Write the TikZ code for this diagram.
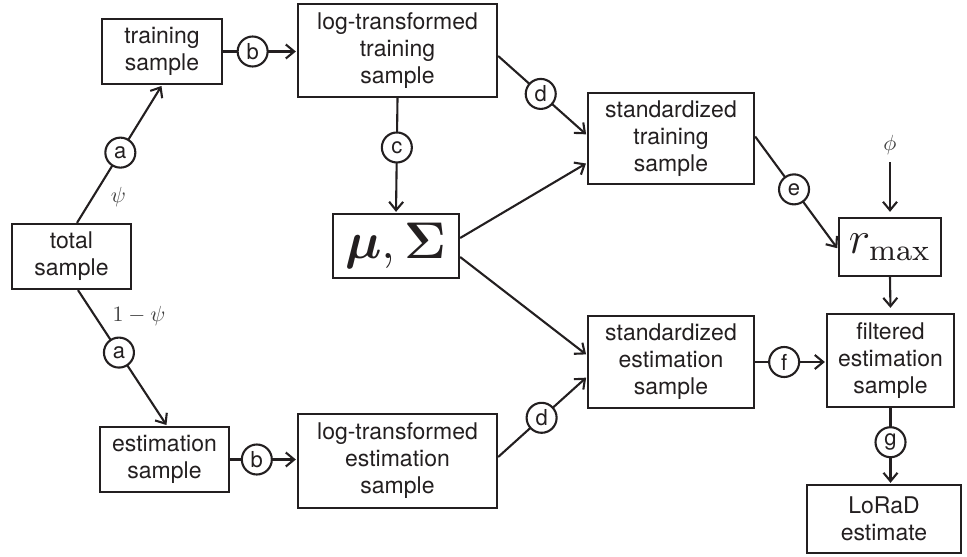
\documentclass[tikz,border=0pt]{standalone}
\usepackage{amsmath}
\usepackage[no-math]{fontspec}
\setmainfont{TeX Gyre Heros}
\usetikzlibrary{arrows.meta}
\usetikzlibrary{calc}
\definecolor{ink}{RGB}{35,31,32}

\begin{document}
\begin{tikzpicture}[x=0.5pt, y=-0.5pt, line width=1.05pt, color=ink,
  box/.style={draw, line width=1.15pt, align=center, inner sep=0pt,
    font=\fontsize{11.5}{13.5}\selectfont},
  letter/.style={draw, circle, fill=white, minimum size=15pt, inner sep=0pt,
    font=\fontsize{11}{11}\selectfont},
  prob/.style={text=black!75, font=\fontsize{11}{11}\selectfont},
  arr/.style={-{Straight Barb[length=4.2pt,width=7pt]}, shorten >=0.5pt}]
  \useasboundingbox (0,0) rectangle (967,556);

  % samples
  \node[box, minimum width=59.5pt, minimum height=32.5pt] (total)    at (71.5,256.5) {total\\sample};
  \node[box, minimum width=60pt,   minimum height=32.5pt] (train)    at (162,51.5)   {training\\sample};
  \node[box, minimum width=64.5pt, minimum height=32.5pt] (est)      at (164.5,459.5) {estimation\\sample};
  \node[box, minimum width=99.5pt, minimum height=46.5pt] (logtrain) at (397.5,50.5) {log-transformed\\training\\sample};
  \node[box, minimum width=99.5pt, minimum height=47pt]   (logest)   at (397.5,461)  {log-transformed\\estimation\\sample};
  \node[box, minimum width=63pt,   minimum height=32pt]   (musig)    at (396,246)    {\scalebox{2.15}{$\boldsymbol{\mu},\boldsymbol{\Sigma}$}};
  \node[box, minimum width=83pt,   minimum height=45.5pt] (stdtrain) at (671,138.5)  {standardized\\training\\sample};
  \node[box, minimum width=83pt,   minimum height=46pt]   (stdest)   at (671,362)    {standardized\\estimation\\sample};
  \node[box, minimum width=51pt,   minimum height=29pt]   (rmax)     at (890,247)    {\scalebox{1.9}{$r_{\max}$}};
  \node[box, minimum width=63.5pt, minimum height=46.5pt] (filt)     at (890.5,360.5) {filtered\\estimation\\sample};
  \node[box, minimum width=77pt,   minimum height=34pt]   (lorad)    at (884,519)    {LoRaD\\estimate};
  \node[prob] (phi) at (890,145) {$\phi$};

  % split of the total sample
  \draw[arr] ([xshift=2.75pt]total.north) -- node[letter, pos=0.51] {a}
    node[prob, pos=0.19, right=5pt] {$\psi$} (train.south);
  \draw[arr] ([xshift=3.25pt]total.south) -- node[letter, pos=0.46] {a}
    node[prob, pos=0.19, right=5pt] {$1-\psi$} ([xshift=1.25pt]est.north);

  % log transform
  \draw[arr] (train.east) -- node[letter, pos=0.4] {b} (train.east -| logtrain.west);
  \draw[arr] (est.east) -- node[letter, pos=0.4] {b} (est.east -| logest.west);
  \draw[arr] (logtrain.south) -- node[letter, pos=0.43] {c} (musig.north);

  % standardize
  \draw[arr] ([yshift=-2.75pt]logtrain.east) -- node[letter, pos=0.48] {d} ([yshift=1.75pt]stdtrain.west);
  \draw[arr] ([yshift=2pt]logest.east) -- node[letter, pos=0.49] {d} ([yshift=-7.5pt]stdest.west);
  \draw[arr] ([yshift=4pt]musig.east) -- ([yshift=-12.25pt]stdtrain.west);
  \draw[arr] ([yshift=-5.5pt]musig.east) -- ([yshift=3.5pt]stdest.west);

  % radius and filtering
  \draw[arr] ([yshift=1pt]stdtrain.east) -- node[letter, pos=0.47] {e} ([yshift=-1pt]rmax.west);
  \draw[arr, shorten >=2.5pt] (phi) -- (rmax.north);
  \draw[arr, shorten >=2.5pt] (rmax.south) -- (filt.north);
  \draw[arr] (stdest.east) -- node[letter, pos=0.41] {f} (stdest.east -| filt.west);
  \draw[arr] (filt.south) -- node[letter, pos=0.45] {g} (filt.south |- lorad.north);
\end{tikzpicture}
\end{document}
